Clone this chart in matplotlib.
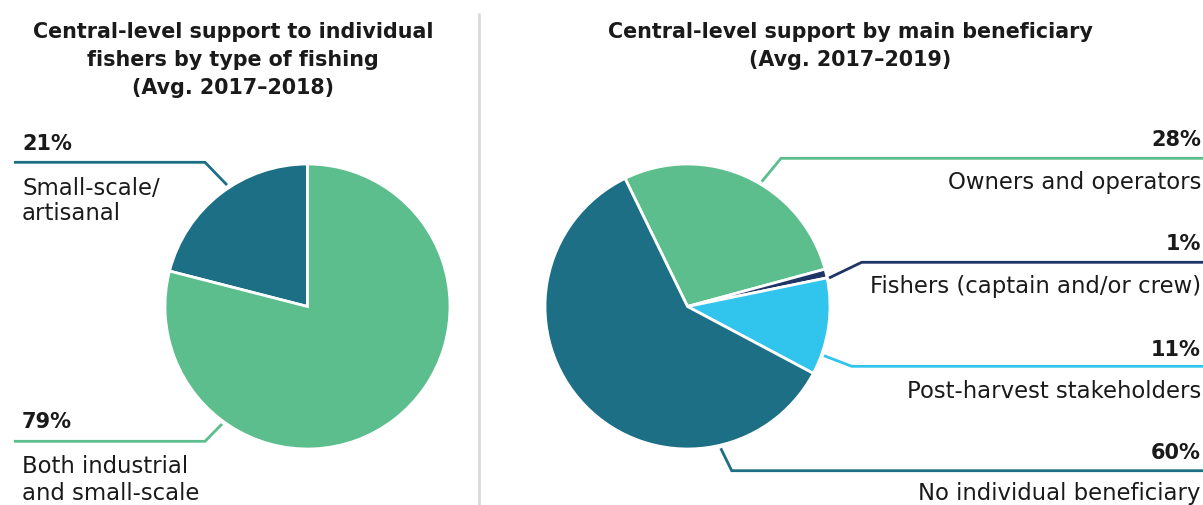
import matplotlib
matplotlib.use("Agg")
import matplotlib.pyplot as plt
import numpy as np

# --- data -----------------------------------------------------------------
fishing_types = ["Small-scale/\nartisanal", "Both industrial\nand small-scale"]
fishing_shares = [21, 79]

beneficiaries = ["Owners and operators", "Fishers (captain and/or crew)",
                 "Post-harvest stakeholders", "No individual beneficiary"]
beneficiary_shares = [28, 1, 11, 60]

left_title = "Central-level support to individual\nfishers by type of fishing\n(Avg. 2017\u20132018)"
right_title = "Central-level support by main beneficiary\n(Avg. 2017\u20132019)"

# --- style ----------------------------------------------------------------
GREEN = "#5bbe8c"
TEAL = "#1c6f84"
NAVY = "#1f3566"
CYAN = "#31c4ec"
TEXT = "#1a1a1a"
FONT = "DejaVu Sans"

W, H = 1203, 506
fig = plt.figure(figsize=(W / 100, H / 100), dpi=100)
ax = fig.add_axes([0, 0, 1, 1])


def Y(y):
    """Convert a top-down pixel row into the bottom-up data coordinate."""
    return H - y


R = 142.5
left_c = (307.5, Y(307.5))
right_c = (687.5, Y(307.5))

ax.pie(fishing_shares, colors=[TEAL, GREEN], startangle=90, counterclock=True,
       center=left_c, radius=R, frame=True,
       wedgeprops=dict(edgecolor="white", linewidth=2))
ax.pie(beneficiary_shares, colors=[GREEN, NAVY, CYAN, TEAL], startangle=116,
       counterclock=False, center=right_c, radius=R, frame=True,
       wedgeprops=dict(edgecolor="white", linewidth=2))

ax.set_xlim(0, W)
ax.set_ylim(0, H)
ax.set_aspect("auto")
ax.axis("off")

# separator between the two panels
ax.plot([478.7, 478.7], [Y(14), Y(506)], color="#d9d9d9", lw=2, solid_capstyle="butt")

# titles
title_kw = dict(fontsize=14.9, fontweight="bold", family=FONT, color=TEXT, ha="center",
                va="baseline")
for i, line in enumerate(left_title.split("\n")):
    ax.text(233, Y(38 + 28 * i), line, **title_kw)
for i, line in enumerate(right_title.split("\n")):
    ax.text(850, Y(38 + 28 * i), line, **title_kw)

pct_kw = dict(fontsize=15, fontweight="bold", family=FONT, color=TEXT, va="baseline")
lab_kw = dict(fontsize=16.4, family=FONT, color=TEXT, va="baseline")


def leader(points, color):
    xs = [p[0] for p in points]
    ys = [Y(p[1]) for p in points]
    ax.plot(xs, ys, color=color, lw=2, solid_capstyle="butt", solid_joinstyle="miter")


# left panel labels
left_layout = [
    # (pct baseline, leader points, label baselines, colour)
    (150, [(14, 163.3), (205, 163.3), (227, 186)], (195, 220), TEAL),
    (428, [(14, 442.3), (205, 442.3), (222, 425)], (473, 500), GREEN),
]
for share, name, (pb, pts, lbs, col) in zip(fishing_shares, fishing_types, left_layout):
    ax.text(22, Y(pb), f"{share}%", ha="left", **pct_kw)
    leader(pts, col)
    for line, b in zip(name.split("\n"), lbs):
        ax.text(22, Y(b), line, ha="left", **lab_kw)

# right panel labels
right_layout = [
    (146, [(1203, 159.3), (781, 159.3), (761.7, 182.7)], 189, GREEN),
    (250, [(1203, 263.3), (861.7, 263.3), (829, 279)], 293, NAVY),
    (356, [(1203, 367.3), (851.7, 367.3), (824, 356.7)], 397.7, CYAN),
    (459, [(1203, 471.7), (731.7, 471.7), (720.7, 449.3)], 500.5, TEAL),
]
for share, name, (pb, pts, lb, col) in zip(beneficiary_shares, beneficiaries, right_layout):
    ax.text(1201, Y(pb), f"{share}%", ha="right", **pct_kw)
    leader(pts, col)
    ax.text(1201, Y(lb), name, ha="right", **lab_kw)

fig.savefig("out.png", dpi=100, facecolor="white")
